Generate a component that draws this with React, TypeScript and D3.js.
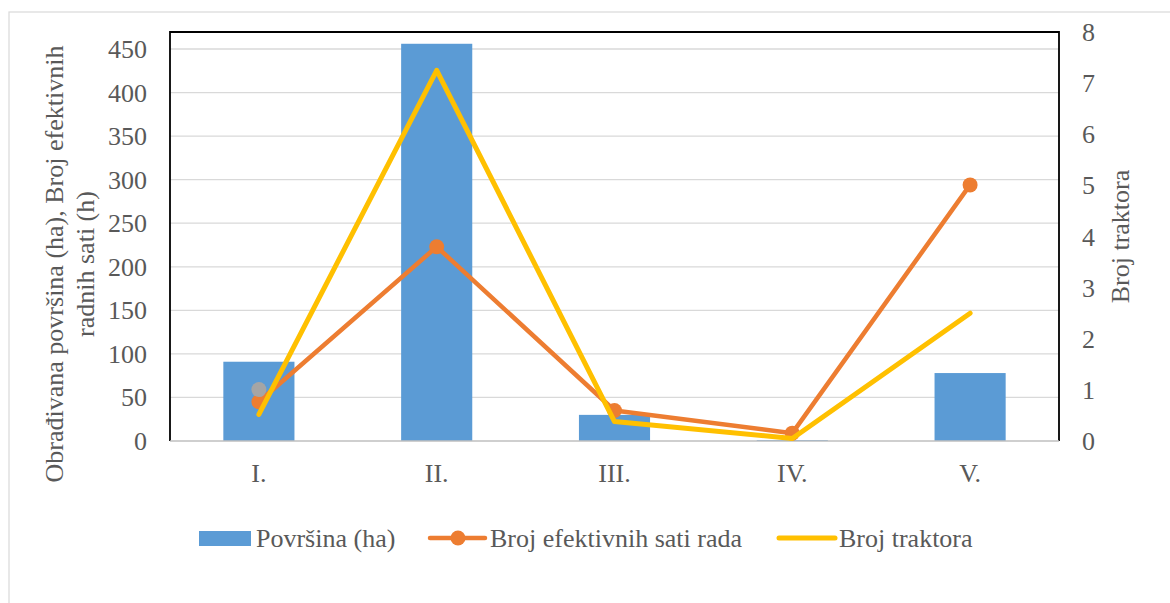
import React from "react";
import * as d3 from "d3";

const categories = ["I.", "II.", "III.", "IV.", "V."];
const povrsina = [91, 456, 30, 1, 78];
const satiRada = [45, 223, 35, 9, 294];
const brojTraktora = [0.52, 7.25, 0.38, 0.05, 2.5];
const extraPoint: (number | null)[] = [59, null, null, null, null];
const leftTicks = [0, 50, 100, 150, 200, 250, 300, 350, 400, 450];
const rightTicks = [0, 1, 2, 3, 4, 5, 6, 7, 8];

const W = 1170;
const H = 603;
const plot = { left: 170, right: 1059, top: 32, bottom: 441 };
const FONT = '"Liberation Serif", "DejaVu Serif", "Times New Roman", serif';
const TXT = "#595959";
const FS = 26;

export default function App() {
  const x = d3
    .scaleBand<string>()
    .domain(categories)
    .range([plot.left, plot.right])
    .paddingInner(0.6)
    .paddingOuter(0.3);
  const yL = d3.scaleLinear().domain([0, 450]).range([plot.bottom, 49]);
  const yR = d3.scaleLinear().domain([0, 8]).range([plot.bottom, plot.top]);
  const cx = (c: string) => (x(c) as number) + x.bandwidth() / 2;

  const lineL = d3
    .line<number>()
    .x((_, i) => cx(categories[i]))
    .y((d) => yL(d));
  const lineR = d3
    .line<number>()
    .x((_, i) => cx(categories[i]))
    .y((d) => yR(d));

  const ts: React.CSSProperties = { fontFamily: FONT, fontSize: FS, fill: TXT };

  return (
    <svg
      width={W}
      height={H}
      style={{ position: "absolute", left: 0, top: 0, background: "#fff", fontFamily: FONT }}
    >
      <rect x={0} y={0} width={W} height={H} fill="#fff" />
      <rect x={9} y={12} width={W + 20} height={H + 20} fill="none" stroke="#D9D9D9" strokeWidth={1.2} />

      {leftTicks.slice(1).map((t) => (
        <line key={t} x1={plot.left} x2={plot.right} y1={yL(t)} y2={yL(t)} stroke="#D9D9D9" strokeWidth={1.3} />
      ))}

      {povrsina.map((v, i) => (
        <rect
          key={i}
          x={x(categories[i])}
          y={yL(v)}
          width={x.bandwidth()}
          height={plot.bottom - yL(v)}
          fill="#5B9BD5"
        />
      ))}

      <path
        d={`M${plot.left},${plot.bottom}V${plot.top}H${plot.right}V${plot.bottom}`}
        fill="none"
        stroke="#000"
        strokeWidth={1.8}
      />
      <line x1={plot.left} x2={plot.right} y1={plot.bottom} y2={plot.bottom} stroke="#BFBFBF" strokeWidth={1.5} />

      <path d={lineL(satiRada) || ""} fill="none" stroke="#ED7D31" strokeWidth={4.5} strokeLinejoin="round" strokeLinecap="round" />
      {satiRada.map((v, i) => (
        <circle key={i} cx={cx(categories[i])} cy={yL(v)} r={7.5} fill="#ED7D31" />
      ))}

      {extraPoint.map((v, i) =>
        v == null ? null : <circle key={i} cx={cx(categories[i])} cy={yL(v)} r={7.5} fill="#A5A5A5" />
      )}

      <path d={lineR(brojTraktora) || ""} fill="none" stroke="#FFC000" strokeWidth={5} strokeLinejoin="round" strokeLinecap="round" />

      {leftTicks.map((t) => (
        <text key={t} x={147} y={yL(t) + 9} textAnchor="end" style={ts}>
          {t}
        </text>
      ))}
      {rightTicks.map((t) => (
        <text key={t} x={1082} y={yR(t) + 9} textAnchor="start" style={ts}>
          {t}
        </text>
      ))}
      {categories.map((c) => (
        <text key={c} x={cx(c)} y={482} textAnchor="middle" style={ts}>
          {c}
        </text>
      ))}

      <text transform="translate(63,264) rotate(-90)" textAnchor="middle" style={ts}>
        Obrađivana površina (ha), Broj efektivnih
      </text>
      <text transform="translate(94,264) rotate(-90)" textAnchor="middle" style={ts}>
        radnih sati (h)
      </text>
      <text transform="translate(1129,236.5) rotate(-90)" textAnchor="middle" style={ts}>
        Broj traktora
      </text>

      <rect x={199} y={531} width={52} height={15} fill="#5B9BD5" />
      <text x={256} y={547} style={ts}>Površina (ha)</text>
      <line x1={430} x2={485} y1={538} y2={538} stroke="#ED7D31" strokeWidth={4.5} strokeLinecap="round" />
      <circle cx={458} cy={538} r={7.5} fill="#ED7D31" />
      <text x={490} y={547} style={ts}>Broj efektivnih sati rada</text>
      <line x1={779} x2={835} y1={538} y2={538} stroke="#FFC000" strokeWidth={5} strokeLinecap="round" />
      <text x={839} y={547} style={ts}>Broj traktora</text>
    </svg>
  );
}
